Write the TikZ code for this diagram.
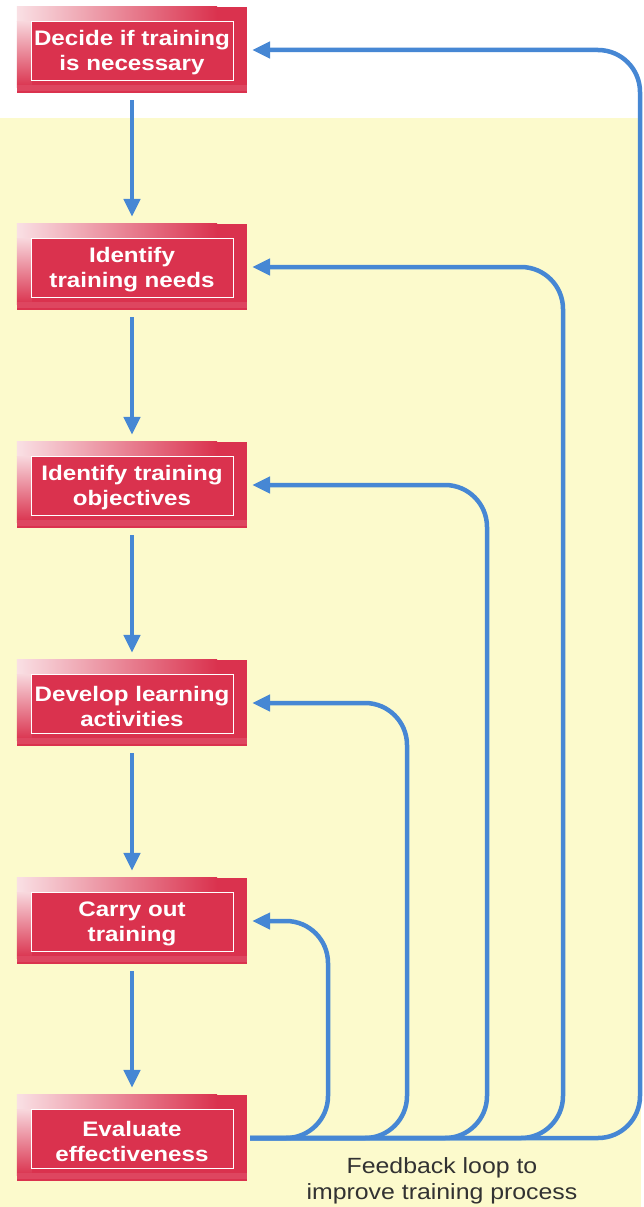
\documentclass[tikz,border=0pt]{standalone}
\usepackage{fontspec}
\setmainfont{Liberation Sans}[FakeStretch=1.15]
\newfontfamily\capfont{Liberation Sans}[FakeStretch=1.13]
\usetikzlibrary{arrows.meta,calc}
\definecolor{boxred}{RGB}{218,50,78}
\definecolor{loopblue}{RGB}{70,135,212}
\definecolor{bgyellow}{RGB}{252,250,204}
\definecolor{captiongray}{RGB}{50,50,50}
\newcommand\mkbox[3]{%
  \node[stepbox] (#1) at (132,#2) {};
  \shade[left color=white!85!boxred, middle color=boxred!65!white, right color=boxred]
    (#1.north west) rectangle ($(#1.north east)+(-30pt,-15pt)$);
  \shade[top color=white!80!boxred, bottom color=boxred]
    ($(#1.north west)+(0pt,-15pt)$) rectangle ($(#1.south west)+(15pt,6pt)$);
  \fill[boxred!90!white] ($(#1.south west)+(0pt,2pt)$) rectangle ($(#1.south east)+(0pt,8pt)$);
  \draw[white,line width=1.3pt] ($(#1.north west)+(15pt,-15pt)$) rectangle ($(#1.south east)+(-14pt,13pt)$);
  \node[steptext] (#1t) at ($(#1.center)+(0pt,-3pt)$) {#3};
}
\begin{document}
\begin{tikzpicture}[x=1pt,y=-1pt,
  stepbox/.style={fill=boxred,minimum width=230pt,minimum height=86pt,inner sep=0pt},
  steptext/.style={inner sep=0pt,text=white,font=\fontsize{21pt}{25pt}\selectfont\bfseries,align=center},
  flow/.style={draw=loopblue,line width=4.5pt,-{Triangle[width=16pt,length=18pt]}},
  down/.style={flow,shorten <=7pt,shorten >=7pt},
  fb/.style={flow,rounded corners=42pt,shorten <=3pt,shorten >=5pt}]
\useasboundingbox (0,0) rectangle (644,1207);
\fill[white] (0,0) rectangle (644,1207);
\fill[bgyellow] (0,118) rectangle (641,1207);

\mkbox{b1}{50}{Decide if training\\is necessary}
\mkbox{b2}{267}{Identify\\training needs}
\mkbox{b3}{485}{Identify training\\objectives}
\mkbox{b4}{703}{Develop learning\\activities}
\mkbox{b5}{921}{Carry out\\training}
\mkbox{b6}{1138}{Evaluate\\effectiveness}

\draw[down] (b1) -- (b2);
\draw[down] (b2) -- (b3);
\draw[down] (b3) -- (b4);
\draw[down] (b4) -- (b5);
\draw[down] (b5) -- (b6);

\draw[fb] (b6.east) -- (640,1138) -- (640,50) -- (b1.east);
\draw[fb] (b6.east) -- (563,1138) -- (563,267) -- (b2.east);
\draw[fb] (b6.east) -- (487,1138) -- (487,485) -- (b3.east);
\draw[fb] (b6.east) -- (407,1138) -- (407,703) -- (b4.east);
\draw[fb] (b6.east) -- (328,1138) -- (328,921) -- (b5.east);

\node[font=\capfont\fontsize{22pt}{26pt}\selectfont, text=captiongray, align=center, inner sep=0pt]
  (cap) at (442,1181) {Feedback loop to\\improve training process};
\end{tikzpicture}
\end{document}
